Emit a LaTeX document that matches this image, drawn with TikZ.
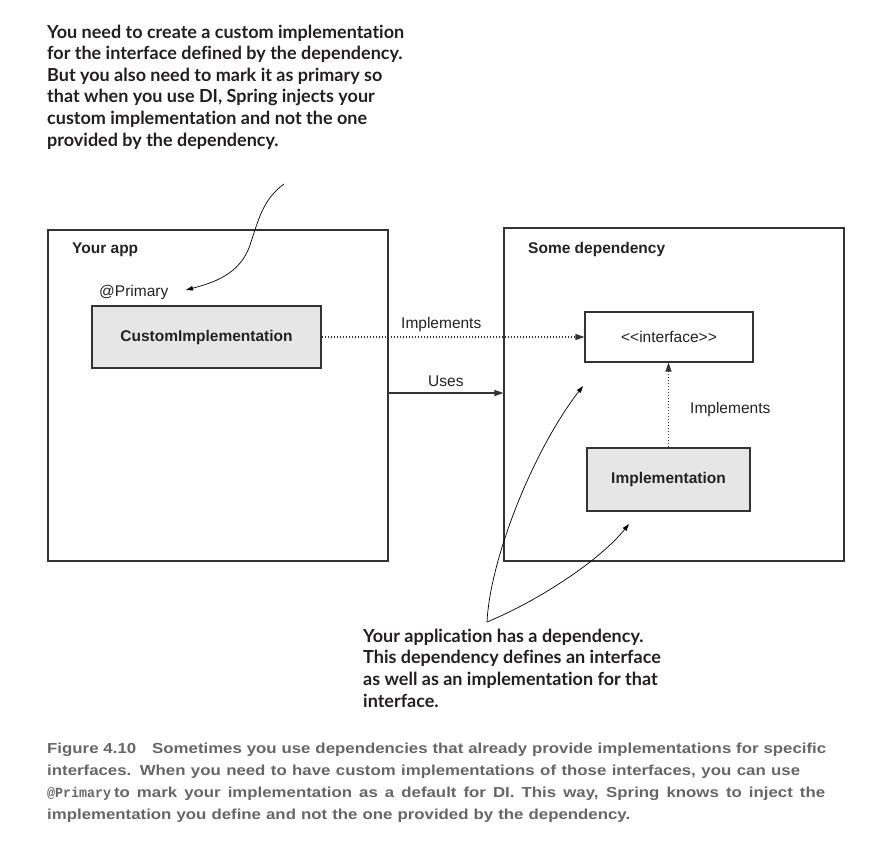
\documentclass[tikz,border=0pt]{standalone}
\usepackage{fontspec}
\setmainfont{Liberation Sans}
\newfontfamily\annfont[Ligatures={NoCommon}]{Lato}
\newfontfamily\capfont[FakeStretch=1.16]{Liberation Sans}
\newfontfamily\capmono[FakeStretch=0.95]{Liberation Mono}
\usetikzlibrary{arrows.meta}
\definecolor{boxline}{HTML}{333333}
\definecolor{boxfill}{HTML}{E6E6E6}
\definecolor{captext}{HTML}{666666}
\definecolor{anntext}{HTML}{231F20}
\definecolor{lbltext}{HTML}{222222}
\begin{document}
\begin{tikzpicture}[x=1pt,y=-1pt,
  container/.style={draw=boxline,line width=1.2pt,inner sep=0pt},
  classbox/.style={draw=boxline,line width=1.1pt,inner sep=0pt,text=lbltext,font=\fontsize{15.5}{18}\selectfont},
  lbl/.style={inner sep=0pt,anchor=base west,text=lbltext,font=\fontsize{15.5}{18}\selectfont},
  title/.style={lbl,font=\fontsize{15.5}{18}\selectfont\bfseries},
  annline/.style={inner sep=0pt,anchor=base west,text=anntext,font=\annfont\fontsize{18}{21}\selectfont\bfseries},
  capline/.style={inner sep=0pt,anchor=base west,text=captext,font=\capfont\fontsize{14.5}{18}\selectfont\bfseries},
  conn/.style={draw=boxline,line width=1.1pt,-{Triangle[length=9pt,width=6pt]}},
  dotconn/.style={conn,dash pattern=on 1.4pt off 1.6pt},
  annarrow/.style={draw=black,line width=0.7pt,-{Triangle[length=7pt,width=4.5pt]}}
]
\useasboundingbox (0,0) rectangle (886,844);

% top annotation
\node[annline] (t1) at (47,38) {You need to create a custom implementation};
\node[annline] (t2) at (47,59.6) {for the interface defined by the dependency.};
\node[annline] (t3) at (47,81.2) {But you also need to mark it as primary so};
\node[annline] (t4) at (47,102.8) {that when you use DI, Spring injects your};
\node[annline] (t5) at (47,124.4) {custom implementation and not the one};
\node[annline] (t6) at (47,146) {provided by the dependency.};

% containers
\node[container,minimum width=340pt,minimum height=331pt] (app) at (218,395.5) {};
\node[container,minimum width=340pt,minimum height=333pt] (dep) at (674,394.5) {};
\node[title] (apptitle) at (72,253) {Your app};
\node[title] (deptitle) at (528,253) {Some dependency};

% classes
\node[lbl] (prim) at (99,296) {@Primary};
\node[classbox,fill=boxfill,font=\fontsize{15.5}{18}\selectfont\bfseries,minimum width=229pt,minimum height=62pt] (ci) at (206.5,337) {CustomImplementation};
\node[classbox,fill=white,minimum width=168pt,minimum height=50pt] (iface) at (669,337) {<{}<interface>{}>};
\node[classbox,fill=boxfill,font=\fontsize{15.5}{18}\selectfont\bfseries,minimum width=163pt,minimum height=63pt] (impl) at (668.5,479.5) {Implementation};

% connectors
\draw[dotconn] (ci.east) -- (iface.west);
\node[lbl] (implab1) at (401,328) {Implements};
\coordinate (usesy) at (0,393);
\draw[conn] (app.east |- usesy) -- (dep.west |- usesy);
\node[lbl] (useslab) at (428,386) {Uses};
\draw[dotconn] (impl.north) -- (impl.north |- iface.south);
\node[lbl] (implab2) at (690,413) {Implements};

% annotation arrows
\coordinate (topstart) at (284,184);
\coordinate (topend) at (186,290);
\draw[annarrow] (topstart) .. controls (262,200) and (258,222) .. (250,245)
  .. controls (240,275) and (212,283) .. (topend);
\coordinate (apex) at (487,622);
\coordinate (ifaceptr) at (583,386);
\coordinate (implptr) at (629,524);
\draw[annarrow] (apex) .. controls (490,560) and (532,452) .. (ifaceptr);
\draw[annarrow] (apex) .. controls (540,600) and (600,560) .. (implptr);

% bottom annotation
\node[annline] (b1) at (363,642) {Your application has a dependency.};
\node[annline] (b2) at (363,663.7) {This dependency defines an interface};
\node[annline] (b3) at (363,685.4) {as well as an implementation for that};
\node[annline] (b4) at (363,707) {interface.};

% caption
\node[capline] (c1) at (47,753) {\makebox[779pt][s]{Figure 4.10\hspace{16pt}Sometimes you use dependencies that already provide implementations for specific}};
\node[capline] (c2) at (47,775) {\makebox[753pt][s]{interfaces. When you need to have custom implementations of those interfaces, you can use}};
\node[capline] (c3) at (47,797) {\makebox[778pt][s]{{\capmono\fontsize{14}{18}\selectfont\bfseries @Primary}\hspace{3pt}to mark your implementation as a default for DI. This way, Spring knows to inject the}};
\node[capline] (c4) at (47,819) {\makebox[583pt][s]{implementation you define and not the one provided by the dependency.}};
\end{tikzpicture}
\end{document}
